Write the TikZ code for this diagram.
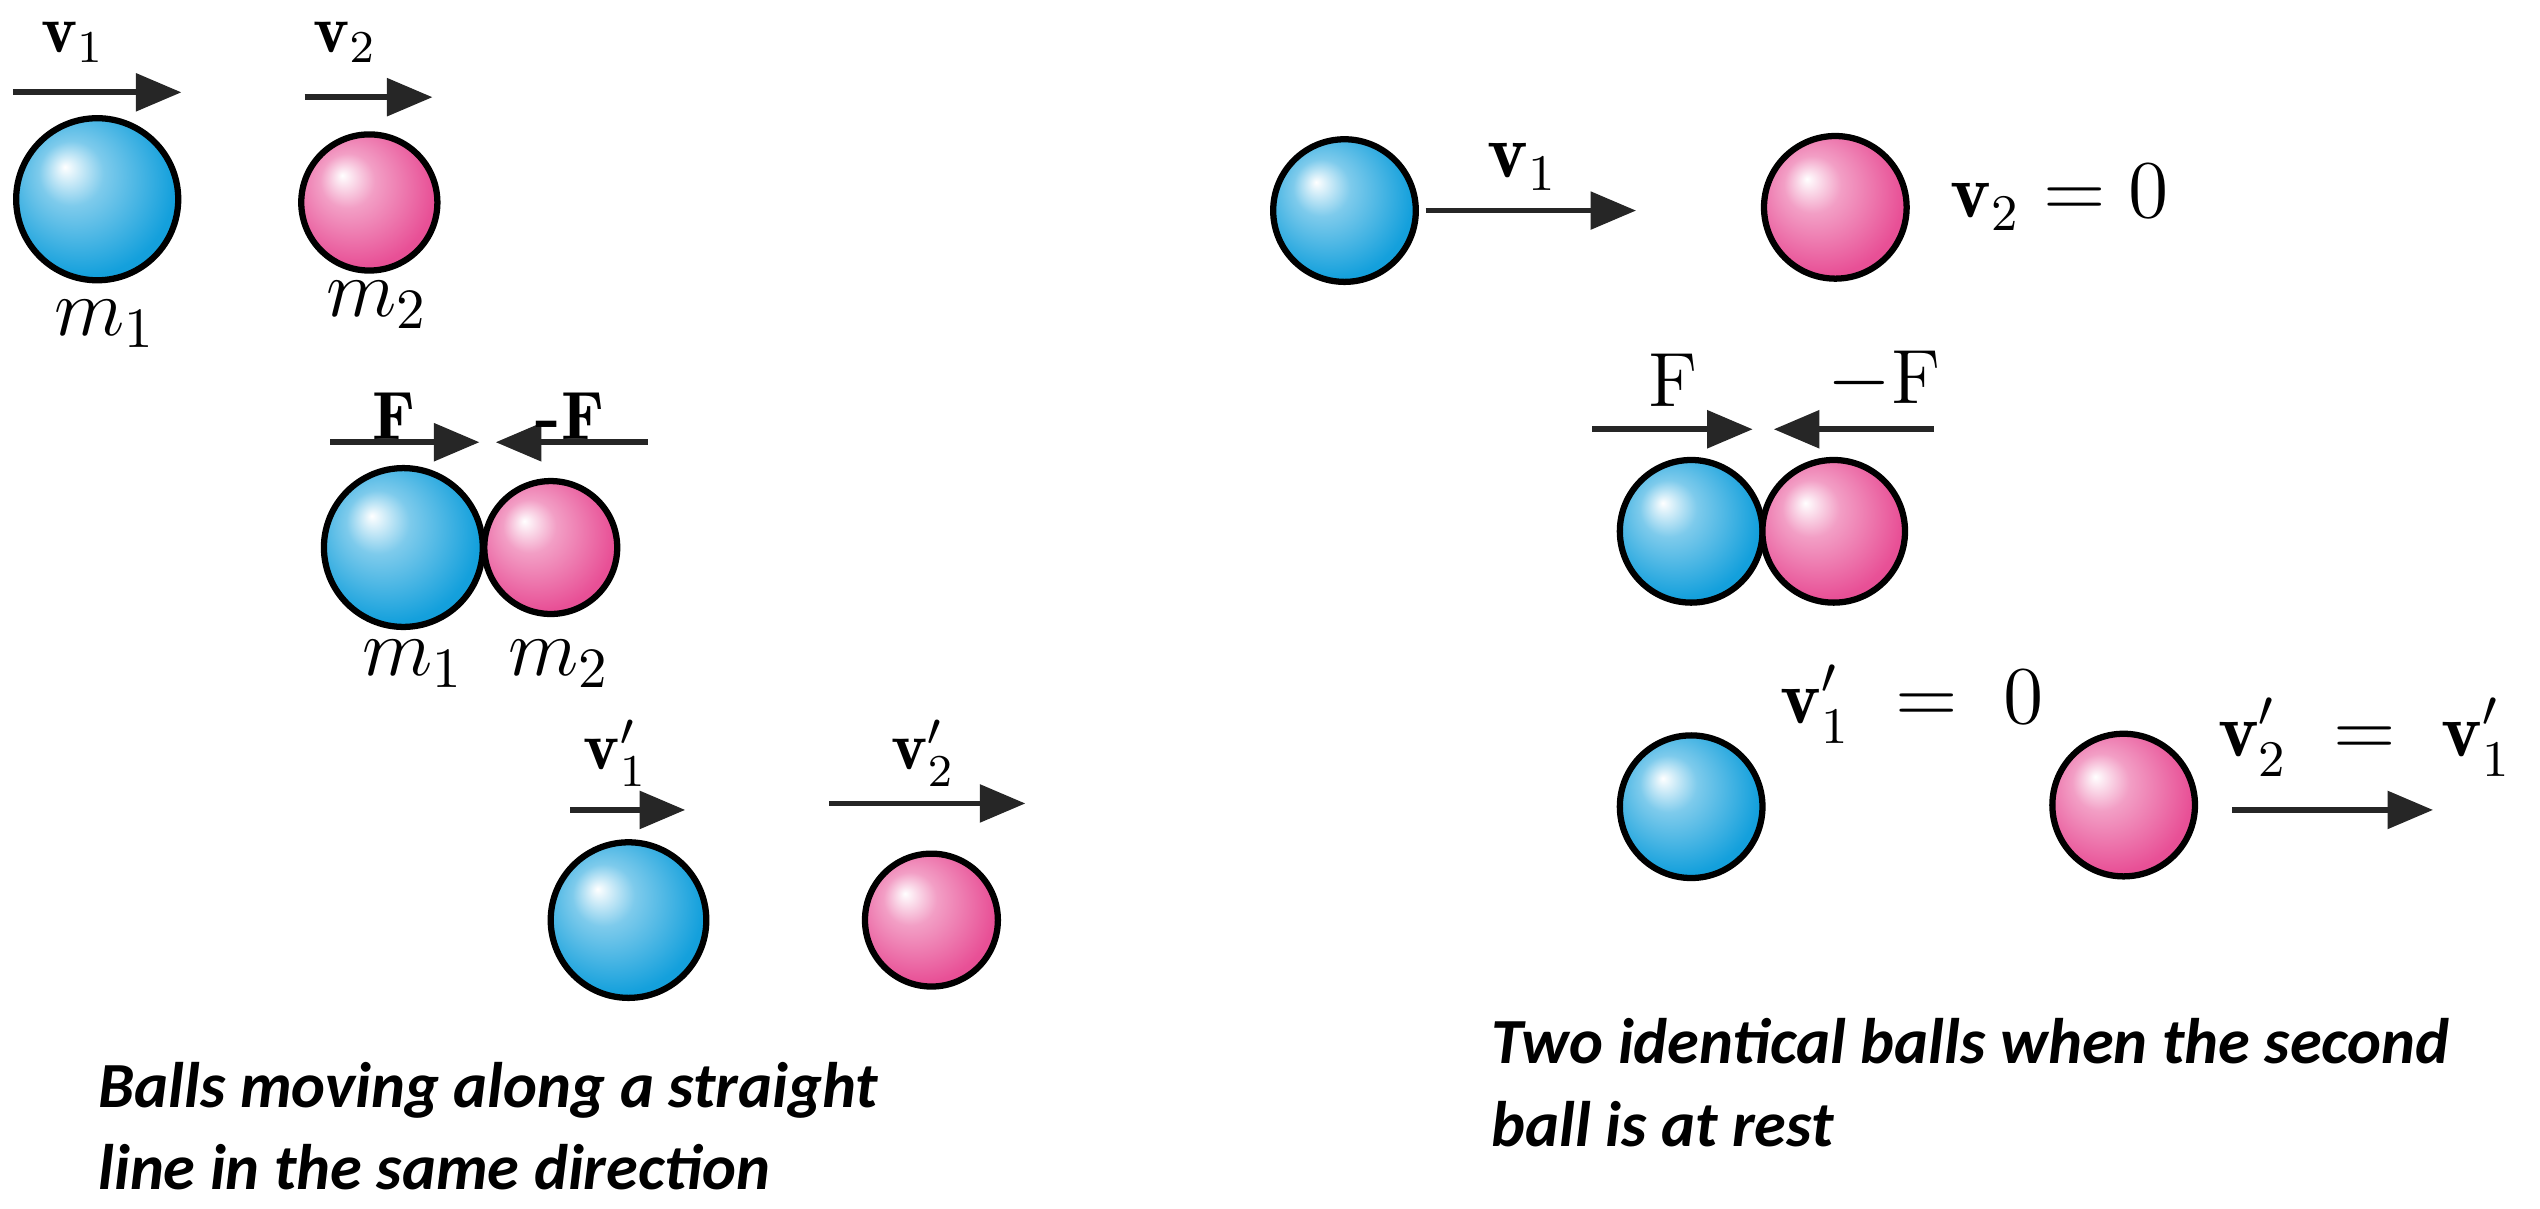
\documentclass[tikz,border=0pt]{standalone}
\usepackage{fontspec}
\usepackage{amsmath}
\newfontfamily\capfont{Carlito}
\usetikzlibrary{arrows.meta,positioning}
\definecolor{ballblue}{RGB}{20,160,220}
\definecolor{ballpink}{RGB}{232,80,150}
\pgfdeclareradialshading{blueball}{\pgfpoint{-10bp}{10bp}}{color(0bp)=(white); color(10bp)=(ballblue!55!white); color(28bp)=(ballblue); color(50bp)=(ballblue!88!black)}
\pgfdeclareradialshading{pinkball}{\pgfpoint{-10bp}{10bp}}{color(0bp)=(white); color(10bp)=(ballpink!55!white); color(28bp)=(ballpink); color(50bp)=(ballpink!88!black)}
\tikzset{
  bblue/.style={circle, draw=black, line width=1.1pt, shading=blueball, inner sep=0},
  bpink/.style={circle, draw=black, line width=1.1pt, shading=pinkball, inner sep=0},
  vec/.style={-{Triangle[length=8pt,width=6.5pt]}, line width=1pt, black!85},
  lbl/.style={font=\fontsize{12}{14}\selectfont, inner sep=1pt},
  mass/.style={font=\fontsize{14}{16}\selectfont, inner sep=1pt},
  big/.style={font=\fontsize{13.5}{16}\selectfont, inner sep=1pt},
  capt/.style={font=\capfont\bfseries\itshape\fontsize{11.3}{14.5}\selectfont, align=left, anchor=north west, inner sep=0}
}
\begin{document}
\begin{tikzpicture}[x=0.01cm,y=-0.01cm]
\useasboundingbox (0,0) rectangle (1568,746);
% left: same direction
\node[bblue, minimum size=1cm] (a1) at (60,123) {};
\node[bpink, minimum size=0.84cm] (a2) at (228,125) {};
\node[mass] (ma1) at (65,200) {$m_1$};
\node[mass] (ma2) at (233,188) {$m_2$};
\coordinate (v1s) at (8,57); \coordinate (v1e) at (112,57);
\draw[vec] (v1s) -- (v1e);
\node[lbl] (v1) at (45,26) {$\mathbf{v}_1$};
\coordinate (v2s) at (188,60); \coordinate (v2e) at (267,60);
\draw[vec] (v2s) -- (v2e);
\node[lbl] (v2) at (213,26) {$\mathbf{v}_2$};

\node[bblue, minimum size=0.98cm] (b1) at (249,338) {};
\node[bpink, minimum size=0.82cm] (b2) at (340,338) {};
\node[mass] (mb1) at (255,410) {$m_1$};
\node[mass] (mb2) at (345,410) {$m_2$};
\coordinate (fs) at (204,273); \coordinate (fe) at (296,273);
\draw[vec] (fs) -- (fe);
\node[lbl] (f) at (243,257) {$\mathbf{F}$};
\coordinate (gs) at (400,273); \coordinate (ge) at (306,273);
\draw[vec] (gs) -- (ge);
\node[lbl] (g) at (352,257) {\textbf{-}$\mathbf{F}$};

\node[bblue, minimum size=0.96cm] (c1) at (388,568) {};
\node[bpink, minimum size=0.82cm] (c2) at (575,568) {};
\coordinate (u1s) at (352,500); \coordinate (u1e) at (423,500);
\draw[vec] (u1s) -- (u1e);
\node[lbl] (u1) at (380,465) {$\mathbf{v}_1'$};
\coordinate (u2s) at (512,496); \coordinate (u2e) at (633,496);
\draw[vec] (u2s) -- (u2e);
\node[lbl] (u2) at (570,465) {$\mathbf{v}_2'$};
\node[capt] (capl) at (60,655) {Balls moving along a straight\\line in the same direction};

% right: second ball at rest
\node[bblue, minimum size=0.88cm] (d1) at (830,130) {};
\node[bpink, minimum size=0.88cm] (d2) at (1133,128) {};
\coordinate (w1s) at (880,130); \coordinate (w1e) at (1010,130);
\draw[vec] (w1s) -- (w1e);
\node[big] (w1) at (940,103) {$\mathbf{v}_1$};
\node[big, anchor=west] (w2) at (1200,122) {$\mathbf{v}_2 = 0$};

\node[bblue, minimum size=0.88cm] (e1) at (1044,328) {};
\node[bpink, minimum size=0.88cm] (e2) at (1132,328) {};
\coordinate (hs) at (983,265); \coordinate (he) at (1082,265);
\draw[vec] (hs) -- (he);
\node[big] (h) at (1033,235) {F};
\coordinate (ks) at (1194,265); \coordinate (ke) at (1095,265);
\draw[vec] (ks) -- (ke);
\node[big] (k) at (1163,235) {$-$F};

\node[bblue, minimum size=0.88cm] (f1) at (1044,498) {};
\node[bpink, minimum size=0.88cm] (f2) at (1311,497) {};
\node[big, anchor=west] (z1) at (1095,435) {$\mathbf{v}_1' \;=\; 0$};
\node[big, anchor=west] (z2) at (1365,455) {$\mathbf{v}_2' \;=\; \mathbf{v}_1'$};
\coordinate (zs) at (1378,500); \coordinate (ze) at (1502,500);
\draw[vec] (zs) -- (ze);
\node[capt] (capr) at (920,628) {Two identical balls when the second\\ball is at rest};
\end{tikzpicture}
\end{document}
